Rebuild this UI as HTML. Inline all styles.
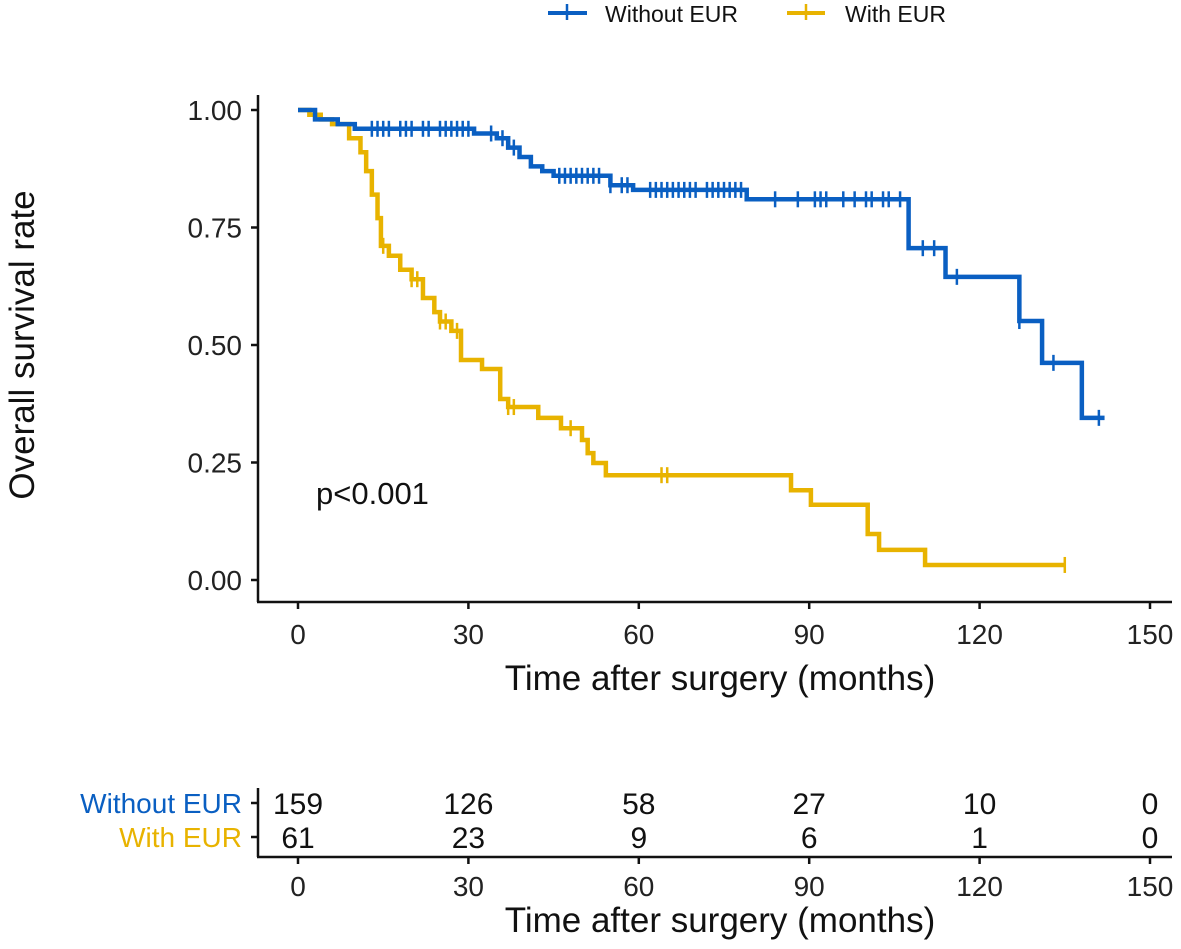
<!DOCTYPE html>
<html><head><meta charset="utf-8"><style>
html,body{margin:0;padding:0;background:#fff;}
svg{display:block;font-family:"Liberation Sans",Arial,sans-serif;}
</style></head><body>
<svg id="chart" width="1181" height="949" viewBox="0 0 1181 949">
<g id="legend">
  <g>
    <line x1="548" y1="13" x2="587" y2="13" stroke="#0a5fc2" stroke-width="4"/>
    <line x1="567" y1="4" x2="567" y2="20" stroke="#0a5fc2" stroke-width="2.5"/>
    <text x="605" y="22" font-size="23" fill="#111">Without EUR</text>
  </g>
  <g>
    <line x1="787" y1="13" x2="825" y2="13" stroke="#e8b300" stroke-width="4"/>
    <line x1="806" y1="4" x2="806" y2="20" stroke="#e8b300" stroke-width="2.5"/>
    <text x="845" y="22" font-size="23" fill="#111">With EUR</text>
  </g>
</g>
<g id="plot"></g>
<g id="risk"></g>
</svg>
<script>
const xTicks=[0,30,60,90,120,150];
const yTicks=[0,0.25,0.5,0.75,1.0];
const yTickLabels=["0.00","0.25","0.50","0.75","1.00"];
const blueTimes=[0,3,7,10,31,35,37,39,41,43,45,55,59,79,107.5,114,127,131,138,142];
const blueSurv=[1.0,0.98,0.97,0.96,0.95,0.94,0.92,0.90,0.88,0.87,0.86,0.84,0.83,0.81,0.706,0.645,0.551,0.462,0.345,0.345];
const blueCensor=[13,14,15,16,18,19,20,22,23,25,26,27,28,29,30,34,36,38,46,47,48,49,50,51,52,53,55,57,58,62,63,64,65,66,67,68,69,70,72,73,74,75,76,77,78,84,88,91,92,93,96,98,100,101,103,104,106,110,112,116,127,133,141];
const yellowTimes=[0,2,4,6,9,11,12,13,14,14.6,16,18,20,22,24,25,27,28.7,32.4,35.6,37,42.3,46.3,50,51,52,54.2,86.8,90.3,100.3,102.3,110.4,135];
const yellowSurv=[1.0,0.99,0.98,0.97,0.94,0.91,0.87,0.82,0.77,0.711,0.69,0.66,0.64,0.60,0.57,0.55,0.53,0.468,0.449,0.385,0.368,0.345,0.323,0.298,0.27,0.249,0.223,0.191,0.16,0.098,0.064,0.032,0.032];
const yellowCensor=[15,20,21,25,26,28,37,38,48,64,65,135];
const riskWithout=[159,126,58,27,10,0];
const riskWith=[61,23,9,6,1,0];

const NS="http://www.w3.org/2000/svg";
const x0=298, pxPerMonth=5.68;
function xs(t){return x0+t*pxPerMonth;}
function ys(s){return 580-470*s;}
function mk(tag,attrs,parent){const e=document.createElementNS(NS,tag);for(const k in attrs)e.setAttribute(k,attrs[k]);parent.appendChild(e);return e;}
function survAt(times,surv,t){let v=surv[0];for(let i=0;i<times.length;i++){if(times[i]<=t)v=surv[i];}return v;}

const plot=document.getElementById('plot');
let ax=mk('line',{x1:258,y1:95,x2:258,y2:602,stroke:'#111','stroke-width':2.5},plot);


ax=mk('line',{x1:257,y1:602,x2:1172,y2:602,stroke:'#111','stroke-width':2.5},plot);


yTicks.forEach((v,i)=>{
  mk('line',{x1:251,y1:ys(v),x2:258,y2:ys(v),stroke:'#111','stroke-width':2.5},plot);
  const t=mk('text',{x:242,y:ys(v)+10,'font-size':28,'text-anchor':'end',fill:'#222'},plot);
  t.textContent=yTickLabels[i];
  
  
});
xTicks.forEach(v=>{
  mk('line',{x1:xs(v),y1:602,x2:xs(v),y2:609,stroke:'#111','stroke-width':2.5},plot);
  const t=mk('text',{x:xs(v),y:644,'font-size':28,'text-anchor':'middle',fill:'#222'},plot);
  t.textContent=v;
  
  
});
let tt=mk('text',{x:720,y:690,'font-size':35,'text-anchor':'middle',fill:'#111'},plot);
tt.textContent='Time after surgery (months)';


tt=mk('text',{x:0,y:0,'font-size':35,'text-anchor':'middle',fill:'#111',transform:'translate(34,345) rotate(-90)'},plot);
tt.textContent='Overall survival rate';


tt=mk('text',{x:316,y:504,'font-size':31,fill:'#111'},plot);
tt.textContent='p<0.001';



function drawCurve(times,surv,cens,color,name){
  let d='M'+xs(times[0])+' '+ys(surv[0]);
  for(let i=1;i<times.length;i++){d+=' H'+xs(times[i])+' V'+ys(surv[i]);}
  const p=mk('path',{d:d,fill:'none',stroke:color,'stroke-width':4.5,'stroke-linejoin':'miter'},plot);
  
  
  cens.forEach(t=>{
    const s=survAt(times,surv,t);
    const c=mk('line',{x1:xs(t),y1:ys(s)-8,x2:xs(t),y2:ys(s)+8,stroke:color,'stroke-width':2.5},plot);
    
    
  });
}
drawCurve(yellowTimes,yellowSurv,yellowCensor,'#e8b300','with-eur');
drawCurve(blueTimes,blueSurv,blueCensor,'#0a5fc2','without-eur');

const risk=document.getElementById('risk');
let r=mk('line',{x1:258,y1:788,x2:258,y2:857,stroke:'#111','stroke-width':2.5},risk);


r=mk('line',{x1:257,y1:857,x2:1172,y2:857,stroke:'#111','stroke-width':2.5},risk);


[[803,'Without EUR','#0a5fc2',riskWithout],[837,'With EUR','#e8b300',riskWith]].forEach(([yy,lab,col,arr])=>{
  mk('line',{x1:251,y1:yy,x2:258,y2:yy,stroke:'#111','stroke-width':2.5},risk);
  const l=mk('text',{x:242,y:yy+10,'font-size':28,'text-anchor':'end',fill:col},risk);
  l.textContent=lab;
  
  
  arr.forEach((n,i)=>{
    const t=mk('text',{x:xs(xTicks[i]),y:yy+11,'font-size':30,'text-anchor':'middle',fill:'#111'},risk);
    t.textContent=n;
    
    
  });
});
xTicks.forEach(v=>{
  mk('line',{x1:xs(v),y1:857,x2:xs(v),y2:864,stroke:'#111','stroke-width':2.5},risk);
  const t=mk('text',{x:xs(v),y:896,'font-size':28,'text-anchor':'middle',fill:'#222'},risk);
  t.textContent=v;
  
  
});
tt=mk('text',{x:720,y:932,'font-size':35,'text-anchor':'middle',fill:'#111'},risk);
tt.textContent='Time after surgery (months)';


</script>
</body></html>
